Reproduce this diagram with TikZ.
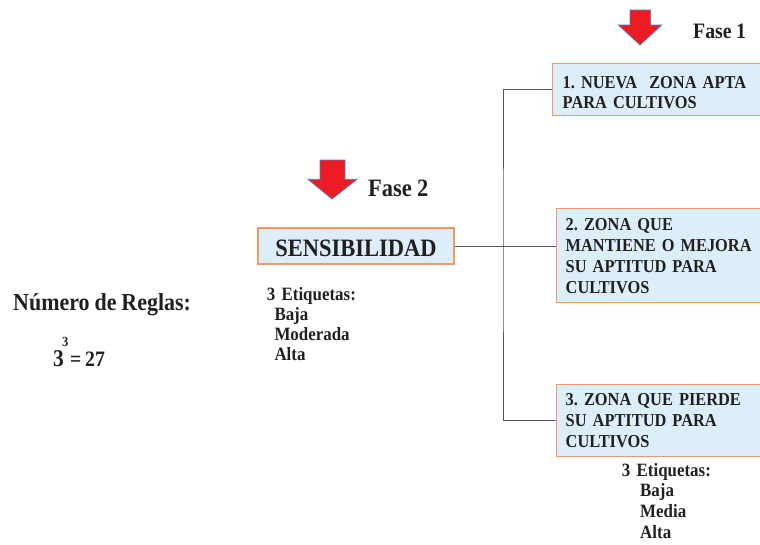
\documentclass[tikz,border=0pt]{standalone}
\usepackage{fontspec}
\setmainfont{Liberation Serif}[FakeStretch=0.9, WordSpace=0.9]
\frenchspacing
\definecolor{txt}{RGB}{35,31,32}
\definecolor{boxfill}{RGB}{219,238,250}
\definecolor{boxline}{RGB}{243,152,98}
\definecolor{arrred}{RGB}{237,28,36}
\definecolor{arrblue}{RGB}{79,129,189}
\definecolor{conn}{RGB}{85,85,85}
\begin{document}
\begin{tikzpicture}[x=1pt,y=-1pt,
  every node/.style={text=txt},
  zonebox/.style={draw=boxline, line width=1.4pt, fill=boxfill, anchor=north west,
    align=left, text width=200pt, inner ysep=0pt, text height=14pt,
    font=\bfseries\frenchspacing\fontsize{18.2}{20.8}\selectfont},
  plain/.style={inner sep=0pt, anchor=base west},
  etiq/.style={inner sep=0pt, anchor=base west, align=left, text width=110pt},
  bigarrow/.style={fill=arrred, draw=arrblue, line width=0.8pt, line join=miter},
  connector/.style={draw=conn, line width=1pt}]
\useasboundingbox (0,0) rectangle (760,544);
\clip (0,0) rectangle (760,544);

% arrows
\draw[bigarrow] (630,10) -- (650.7,10) -- (650.7,25) -- (661.7,25) -- (640,45) -- (618.3,25) -- (630,25) -- cycle;
\draw[bigarrow] (320,160) -- (345,160) -- (345,179.3) -- (357,179.3) -- (332,199) -- (308,179.3) -- (320,179.3) -- cycle;

% phase labels
\node[plain, font=\bfseries\fontsize{22}{22}\selectfont] (f1) at (693,38.3) {Fase 1};
\node[plain, font=\bfseries\fontsize{25}{25}\selectfont] (f2) at (368,196) {Fase 2};

% boxes
\node[zonebox, inner xsep=10.3pt, minimum height=52pt, text depth=17.4pt] (z1) at (551.7,63)
  {1. NUEVA~ ZONA APTA\\PARA CULTIVOS};
\node[zonebox, inner xsep=9.3pt, minimum height=94pt, text depth=64pt] (z2) at (555.7,208)
  {2. ZONA QUE\\MANTIENE O MEJORA\\SU APTITUD PARA\\CULTIVOS};
\node[zonebox, inner xsep=9.3pt, minimum height=72pt, text depth=44pt] (z3) at (555.7,384)
  {3. ZONA QUE PIERDE\\SU APTITUD PARA\\CULTIVOS};

\node[draw=boxline, line width=1.4pt, fill=boxfill, minimum width=196pt, minimum height=36pt,
  inner sep=0pt, text height=20pt, text depth=0pt,
  font=\bfseries\fontsize{25}{25}\selectfont] (sens) at (356,246) {SENSIBILIDAD};

% connectors
\coordinate (j) at (503,246);
\draw[connector] (z1.west) -| (j) |- (z3.west);
\draw[connector] (sens.east) -- (sens.east -| z2.west);

% labels
\node[etiq, font=\bfseries\fontsize{18.8}{19.8}\selectfont] (et1) at (266.7,300.7)
  {3 Etiquetas:\\\hspace*{7.6pt}Baja\\\hspace*{7.6pt}Moderada\\\hspace*{7.6pt}Alta};
\node[etiq, font=\bfseries\fontsize{18.8}{20.7}\selectfont] (et2) at (621.7,476)
  {3 Etiquetas:\\\hspace*{18.3pt}Baja\\\hspace*{18.3pt}Media\\\hspace*{18.3pt}Alta};

\node[plain, font=\bfseries\fontsize{24.4}{24}\selectfont] (nr) at (13,310) {Número de Reglas:};
\node[plain, font=\bfseries\fontsize{24}{24}\selectfont] (b3) at (53,366) {3};
\node[plain, font=\bfseries\fontsize{14}{14}\selectfont] (e3) at (62,346.7) {3};
\node[plain, font=\bfseries\fontsize{22}{22}\selectfont] (eq) at (70,366) {=\,27};
\end{tikzpicture}
\end{document}
